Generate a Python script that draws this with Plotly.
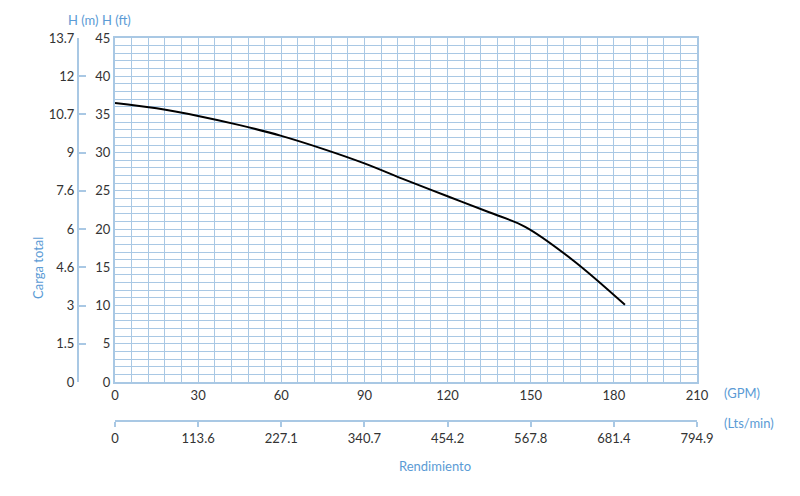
import plotly.graph_objects as go

gpm = [0, 15, 30, 45, 60, 75, 90, 105, 120, 135, 148, 165, 184]
head_ft = [36.5, 35.8, 34.8, 33.6, 32.2, 30.5, 28.6, 26.4, 24.3, 22.2, 20.3, 16.0, 10.1]
ft_ticks = [0, 5, 10, 15, 20, 25, 30, 35, 40, 45]
m_labels = ["0", "1.5", "3", "4.6", "6", "7.6", "9", "10.7", "12", "13.7"]
gpm_ticks = [0, 30, 60, 90, 120, 150, 180, 210]
lpm_labels = ["0", "113.6", "227.1", "340.7", "454.2", "567.8", "681.4", "794.9"]

grid = "#a9c8e4"
blue = "#5b9bd5"
txt = "#333333"
x0, x1 = 107/800, 689/800

fig = go.Figure()
fig.add_trace(go.Scatter(x=gpm, y=head_ft, mode="lines", line=dict(color="black", width=2, shape="spline"), showlegend=False))
fig.add_trace(go.Scatter(x=[0], y=[0], yaxis="y2", xaxis="x2", mode="markers", marker=dict(opacity=0), showlegend=False, hoverinfo="skip"))

fig.update_layout(
    width=800, height=496, margin=dict(l=0, r=0, t=30, b=70, autoexpand=False),
    plot_bgcolor="white", paper_bgcolor="white",
    font=dict(family="Lato", size=13, color=txt),
    xaxis=dict(domain=[x0, x1], range=[0, 210], tickvals=gpm_ticks, automargin=False,
               showgrid=True, gridcolor=grid, gridwidth=1, zeroline=False,
               showline=True, linecolor=grid, linewidth=2, mirror=True,
               ticks="", fixedrange=True,
               minor=dict(dtick=6, tick0=0, showgrid=True, gridcolor=grid, gridwidth=1)),
    yaxis=dict(domain=[52/396, 1], range=[0, 45], tickvals=ft_ticks, automargin=False,
               showgrid=True, gridcolor=grid, zeroline=False,
               showline=True, linecolor=grid, linewidth=2, mirror=True, ticks="",
               minor=dict(dtick=1, showgrid=True, gridcolor=grid, gridwidth=1)),
    yaxis2=dict(overlaying="y", anchor="free", position=70/800, side="left", range=[0, 45],
                tickvals=ft_ticks, ticktext=m_labels, showgrid=False, zeroline=False, automargin=False,
                showline=True, linecolor=grid, linewidth=2, ticks="inside", ticklen=7,
                tickcolor=grid, tickwidth=2),
    xaxis2=dict(anchor="free", position=13/396, overlaying="x", range=[0, 210], automargin=False,
                tickvals=gpm_ticks, ticktext=lpm_labels, showgrid=False, zeroline=False,
                showline=True, linecolor=grid, linewidth=2, ticks="outside", ticklen=5,
                tickcolor=grid, tickwidth=2, side="bottom"),
)
fig.add_annotation(text="H (m) H (ft)", x=0.073, y=1, xref="paper", yref="paper", yshift=8, yanchor="bottom",
                   showarrow=False, font=dict(color=blue, size=13))
fig.add_annotation(text="Carga total", x=20/800, y=(496-70-260)/396, xref="paper", yref="paper", textangle=-90,
                   showarrow=False, font=dict(color=blue, size=13))
fig.add_annotation(text="(GPM)", x=714/800, y=(496-70-395)/396, xref="paper", yref="paper", xanchor="left",
                   showarrow=False, font=dict(color=blue, size=13))
fig.add_annotation(text="(Lts/min)", x=714/800, y=(496-70-425)/396, xref="paper", yref="paper", xanchor="left",
                   showarrow=False, font=dict(color=blue, size=13))
fig.add_annotation(text="Rendimiento", x=427/800, y=(496-70-468)/396, xref="paper", yref="paper",
                   showarrow=False, font=dict(color=blue, size=13))
fig.write_html("out.html")
